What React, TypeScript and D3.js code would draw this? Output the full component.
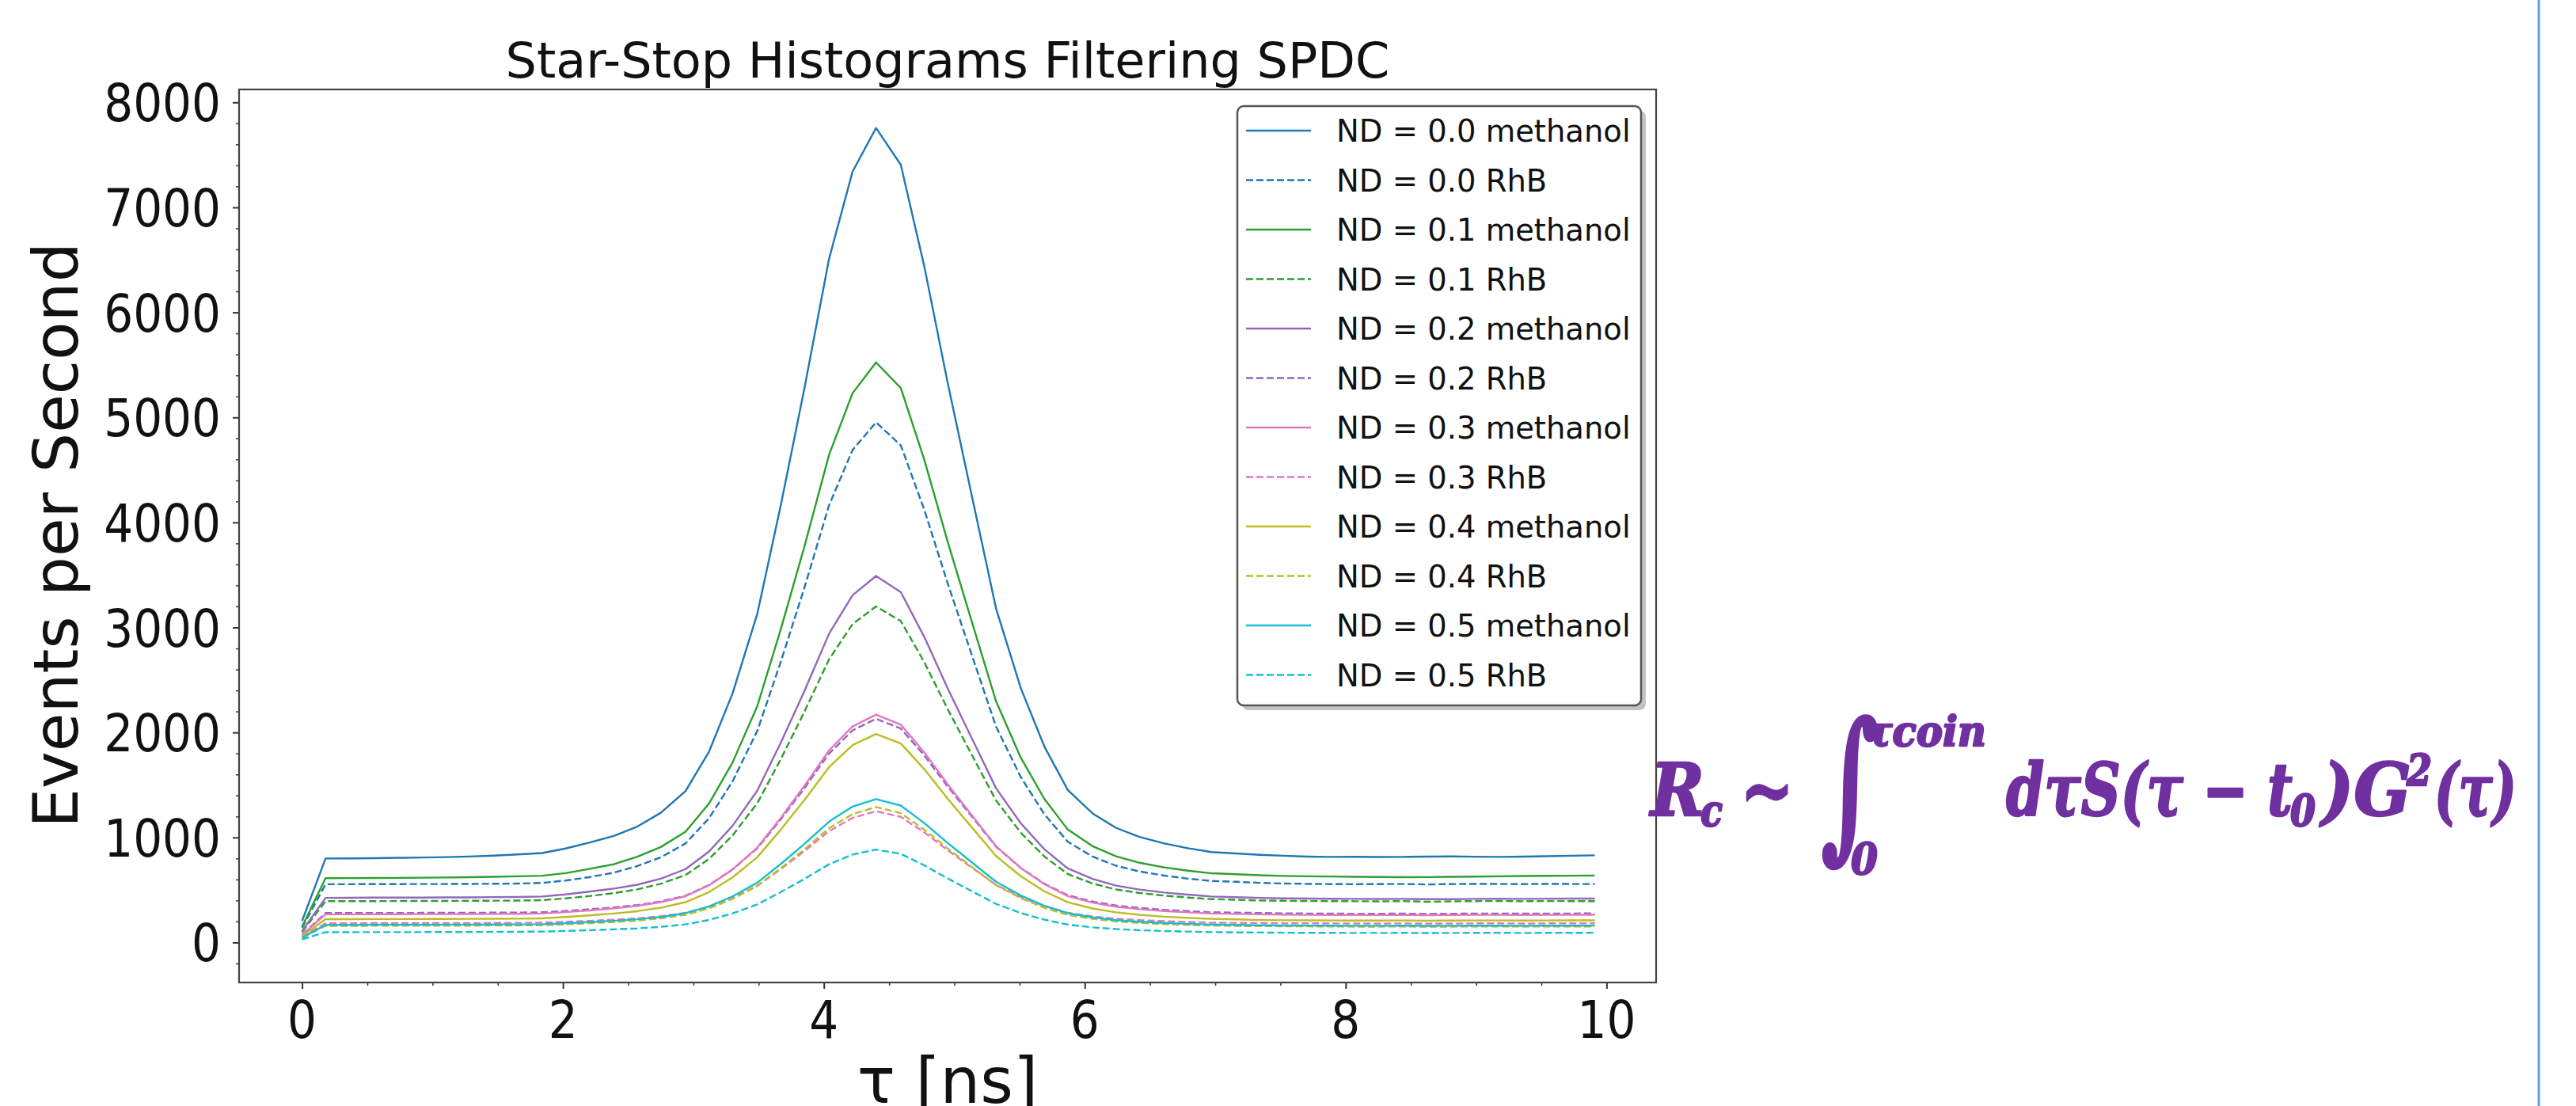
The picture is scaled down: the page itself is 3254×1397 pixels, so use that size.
import React, { useEffect, useRef } from 'react';
import * as d3 from 'd3';

const W = 3254;
const H = 1397;

// time bins (ns)
const tau = [
  0, 0.18, 0.37, 0.55, 0.73, 0.92, 1.10, 1.28, 1.47, 1.65, 1.84, 2.02, 2.20, 2.39, 2.57, 2.75, 2.94, 3.12, 3.30,
  3.49, 3.67, 3.85, 4.04, 4.22, 4.40, 4.59, 4.77, 4.95, 5.14, 5.32, 5.51, 5.69, 5.87, 6.06, 6.24, 6.42, 6.61,
  6.79, 6.97, 7.16, 7.34, 7.52, 7.71, 7.89, 8.07, 8.26, 8.44, 8.62, 8.81, 8.99, 9.18, 9.36, 9.54, 9.73, 9.91,
];

// events per second
const nd00Methanol = [
  205, 800, 801, 803, 806, 809, 813, 819, 827, 838, 852, 895, 950, 1015, 1104, 1235, 1443, 1818, 2372, 3132, 4165, 5271, 6511, 7341,
  7756,
  7405, 6437, 5325, 4219, 3181, 2421, 1867, 1452, 1229, 1091, 1005, 943, 898, 861, 848,
  835, 826, 818, 815, 816, 814, 815, 818, 820, 817, 815, 818, 822, 826, 830,
];
const nd00RhB = [
  140, 555, 555, 556, 556, 557, 557, 558, 559, 561, 567, 590, 622, 665, 728, 811, 943, 1184, 1534, 2016, 2674, 3375, 4164, 4690,
  4953,
  4734, 4120, 3417, 2716, 2056, 1574, 1222, 959, 818, 731, 676, 637, 608, 586, 578,
  568, 562, 558, 556, 555, 556, 557, 553, 556, 558, 557, 556, 558, 557, 557,
];
const nd01Methanol = [
  150, 612, 613, 614, 615, 617, 619, 622, 626, 630, 636, 660, 700, 745, 816, 909, 1055, 1324, 1714, 2252, 2984, 3766, 4645, 5231,
  5524,
  5280, 4596, 3813, 3031, 2297, 1759, 1368, 1075, 917, 820, 759, 715, 684, 659, 650,
  640, 634, 630, 628, 625, 624, 622, 623, 625, 627, 630, 633, 635, 636, 638,
];
const nd01RhB = [
  100, 393, 394, 394, 395, 395, 396, 397, 398, 399, 403, 420, 442, 470, 506, 559, 643, 796, 1020, 1327, 1747, 2194, 2697, 3032,
  3200,
  3060, 2669, 2220, 1773, 1352, 1045, 819, 652, 561, 505, 471, 446, 428, 413, 407,
  400, 397, 395, 394, 393, 392, 394, 388, 392, 394, 395, 393, 395, 394, 394,
];
const nd02Methanol = [
  110, 425, 426, 427, 427, 428, 429, 430, 432, 433, 438, 458, 484, 513, 550, 608, 699, 867, 1111, 1447, 1904, 2392, 2941, 3307,
  3490,
  3336, 2909, 2418, 1930, 1469, 1134, 888, 705, 605, 542, 504, 476, 456, 438, 431,
  425, 420, 418, 416, 415, 414, 415, 412, 413, 415, 416, 415, 417, 418, 418,
];
const nd02RhB = [
  75, 280, 280, 281, 281, 282, 282, 283, 284, 285, 288, 300, 316, 334, 356, 391, 446, 548, 695, 897, 1173, 1468, 1799, 2020,
  2130,
  2038, 1780, 1484, 1190, 912, 709, 560, 450, 390, 352, 329, 311, 299, 289, 284,
  281, 278, 276, 275, 274, 274, 275, 272, 274, 275, 276, 275, 276, 276, 277,
];
const nd03Methanol = [
  70, 268, 268, 269, 269, 270, 270, 271, 272, 273, 276, 289, 305, 325, 348, 384, 441, 545, 696, 904, 1187, 1490, 1830, 2057,
  2170,
  2074, 1809, 1505, 1202, 917, 709, 556, 442, 380, 341, 317, 299, 287, 276, 272,
  268, 265, 263, 262, 262, 261, 262, 260, 262, 263, 263, 262, 263, 264, 264,
];
const nd03RhB = [
  55, 183, 183, 184, 184, 184, 185, 185, 186, 187, 189, 197, 206, 217, 230, 250, 282, 340, 425, 541, 700, 869, 1060, 1187,
  1250,
  1196, 1048, 878, 708, 549, 432, 347, 283, 248, 226, 213, 203, 196, 189, 187,
  185, 183, 182, 182, 181, 181, 182, 180, 181, 182, 182, 181, 182, 182, 183,
];
const nd04Methanol = [
  60, 222, 222, 223, 223, 224, 224, 225, 226, 227, 230, 243, 258, 276, 298, 331, 384, 480, 620, 813, 1075, 1355, 1670, 1880,
  1985,
  1895, 1650, 1368, 1088, 823, 631, 488, 383, 324, 287, 264, 246, 234, 225, 220,
  214, 212, 211, 210, 209, 209, 210, 208, 209, 210, 210, 209, 210, 211, 211,
];
const nd04RhB = [
  45, 158, 158, 159, 159, 159, 160, 160, 161, 162, 164, 172, 183, 195, 208, 230, 263, 325, 415, 538, 707, 886, 1088, 1223,
  1290,
  1232, 1075, 894, 715, 545, 422, 330, 263, 225, 201, 186, 175, 167, 161, 157,
  156, 154, 153, 152, 151, 151, 152, 150, 151, 152, 152, 151, 152, 152, 153,
];
const nd05Methanol = [
  45, 168, 168, 169, 169, 169, 170, 170, 171, 172, 174, 183, 194, 206, 221, 243, 279, 344, 439, 570, 748, 938, 1151, 1294,
  1365,
  1304, 1137, 947, 757, 578, 447, 350, 279, 239, 213, 198, 186, 178, 171, 168,
  164, 162, 161, 160, 159, 159, 160, 158, 159, 160, 160, 159, 160, 160, 161,
];
const nd05RhB = [
  30, 98, 98, 99, 99, 99, 100, 100, 101, 102, 104, 110, 117, 125, 134, 149, 172, 215, 277, 363, 480, 605, 745, 838,
  885,
  844, 735, 609, 485, 367, 281, 217, 170, 144, 128, 117, 109, 104, 99, 96,
  95, 93, 92, 92, 91, 91, 92, 90, 91, 92, 92, 91, 92, 92, 93,
];

const seriesLabels = [
  'ND = 0.0 methanol', 'ND = 0.0 RhB', 'ND = 0.1 methanol', 'ND = 0.1 RhB',
  'ND = 0.2 methanol', 'ND = 0.2 RhB', 'ND = 0.3 methanol', 'ND = 0.3 RhB',
  'ND = 0.4 methanol', 'ND = 0.4 RhB', 'ND = 0.5 methanol', 'ND = 0.5 RhB',
];
const seriesValues = [
  nd00Methanol, nd00RhB, nd01Methanol, nd01RhB, nd02Methanol, nd02RhB,
  nd03Methanol, nd03RhB, nd04Methanol, nd04RhB, nd05Methanol, nd05RhB,
];
const seriesColors = [
  '#1f77b4', '#1f77b4', '#2ca02c', '#2ca02c', '#9467bd', '#9467bd',
  '#e377c2', '#e377c2', '#bcbd22', '#bcbd22', '#17becf', '#17becf',
];
const seriesDashed = [false, true, false, true, false, true, false, true, false, true, false, true];

const xTicks = [0, 2, 4, 6, 8, 10];
const xMinorTicks = [0.5, 1, 1.5, 2.5, 3, 3.5, 4.5, 5, 5.5, 6.5, 7, 7.5, 8.5, 9, 9.5];
const yTicks = [0, 1000, 2000, 3000, 4000, 5000, 6000, 7000, 8000];
const yMinorTicks = [-200, 200, 400, 600, 800, 1200, 1400, 1600, 1800, 2200, 2400, 2600, 2800, 3200, 3400, 3600,
  3800, 4200, 4400, 4600, 4800, 5200, 5400, 5600, 5800, 6200, 6400, 6600, 6800, 7200, 7400, 7600, 7800];

const PLOT = { left: 302, right: 2092, top: 113, bottom: 1241 };
const SANS = '"DejaVu Sans", sans-serif';
const MATH = '"DejaVu Serif", serif';
const FORMULA_COLOR = '#7030a0';
const TICK_SX = 0.88;

export default function App() {
  const svgRef = useRef<SVGSVGElement | null>(null);

  useEffect(() => {
    if (!svgRef.current) return;
    const svg = d3.select(svgRef.current);
    svg.selectAll('*').remove();

    svg.append('rect').attr('width', W).attr('height', H).attr('fill', '#ffffff');

    const x = d3.scaleLinear().domain([-0.483, 10.38]).range([PLOT.left, PLOT.right]);
    const y = d3.scaleLinear().domain([-381, 8123]).range([PLOT.bottom, PLOT.top]);

    // ticks (outward, matplotlib style)
    const tickStyle = (sel: any, w: number) => {
      sel.select('.domain').remove();
      sel.selectAll('line').attr('stroke', '#333').attr('stroke-width', w);
    };
    svg.append('g').attr('transform', `translate(0,${PLOT.bottom})`)
      .call(d3.axisBottom(x).tickValues(xTicks).tickSize(8).tickFormat(() => ''))
      .call((s: any) => tickStyle(s, 2));
    svg.append('g').attr('transform', `translate(0,${PLOT.bottom})`)
      .call(d3.axisBottom(x).tickValues(xMinorTicks).tickSize(4).tickFormat(() => ''))
      .call((s: any) => tickStyle(s, 1.5));
    svg.append('g').attr('transform', `translate(${PLOT.left},0)`)
      .call(d3.axisLeft(y).tickValues(yTicks).tickSize(8).tickFormat(() => ''))
      .call((s: any) => tickStyle(s, 2));
    svg.append('g').attr('transform', `translate(${PLOT.left},0)`)
      .call(d3.axisLeft(y).tickValues(yMinorTicks).tickSize(4).tickFormat(() => ''))
      .call((s: any) => tickStyle(s, 1.5));

    // tick labels
    svg.append('g').selectAll('text').data(xTicks).join('text')
      .attr('transform', d => `translate(${x(d)},1311) scale(${TICK_SX},1)`)
      .attr('text-anchor', 'middle')
      .style('font-family', SANS).style('font-size', '66px').attr('fill', '#111')
      .text(d => String(d));
    svg.append('g').selectAll('text').data(yTicks).join('text')
      .attr('transform', d => `translate(279,${y(d) + 24}) scale(${TICK_SX},1)`)
      .attr('text-anchor', 'end')
      .style('font-family', SANS).style('font-size', '66px').attr('fill', '#111')
      .text(d => String(d));

    // series lines
    const line = d3.line<number>().x((_, i) => x(tau[i])).y(d => y(d));
    svg.append('g').selectAll('path').data(seriesValues).join('path')
      .attr('d', d => line(d))
      .attr('fill', 'none')
      .attr('stroke', (_, i) => seriesColors[i])
      .attr('stroke-width', 2.4)
      .attr('stroke-linejoin', 'round')
      .attr('stroke-dasharray', (_, i) => (seriesDashed[i] ? '9,4' : null));

    // frame
    svg.append('rect')
      .attr('x', PLOT.left).attr('y', PLOT.top)
      .attr('width', PLOT.right - PLOT.left).attr('height', PLOT.bottom - PLOT.top)
      .attr('fill', 'none').attr('stroke', '#444').attr('stroke-width', 2.2);

    // legend
    const lg = svg.append('g');
    lg.append('rect').attr('x', 1569).attr('y', 140).attr('width', 510).attr('height', 757)
      .attr('rx', 8).attr('fill', '#888').attr('opacity', 0.5);
    lg.append('rect').attr('x', 1563).attr('y', 134).attr('width', 510).attr('height', 757)
      .attr('rx', 8).attr('fill', '#fff').attr('stroke', '#555').attr('stroke-width', 2.5);
    const items = lg.selectAll('g.item').data(seriesLabels).join('g')
      .attr('class', 'item')
      .attr('transform', (_, i) => `translate(0,${165 + i * 62.5})`);
    items.append('line').attr('x1', 1574).attr('x2', 1656).attr('y1', 0).attr('y2', 0)
      .attr('stroke', (_, i) => seriesColors[i]).attr('stroke-width', 2.5)
      .attr('stroke-dasharray', (_, i) => (seriesDashed[i] ? '9,4' : null));
    items.append('text').attr('x', 1688).attr('y', 14)
      .style('font-family', SANS).style('font-size', '38.5px').attr('fill', '#111')
      .text(d => d);

    // title and axis labels
    svg.append('text')
      .attr('x', (PLOT.left + PLOT.right) / 2).attr('y', 98)
      .attr('text-anchor', 'middle')
      .style('font-family', SANS).style('font-size', '62px').attr('fill', '#111')
      .text('Star-Stop Histograms Filtering SPDC');
    svg.append('text')
      .attr('x', (PLOT.left + PLOT.right) / 2).attr('y', 1393)
      .attr('text-anchor', 'middle')
      .style('font-family', SANS).style('font-size', '80px').attr('fill', '#111')
      .text('τ [ns]');
    svg.append('text')
      .attr('transform', 'translate(98,676) rotate(-90)')
      .attr('text-anchor', 'middle')
      .style('font-family', SANS).style('font-size', '79px').attr('fill', '#111')
      .text('Events per Second');

    // formula to the right of the chart
    const fm = svg.append('g').attr('fill', FORMULA_COLOR)
      .attr('stroke', FORMULA_COLOR).attr('stroke-width', 2.5).attr('stroke-linejoin', 'round')
      .style('font-family', MATH).style('font-weight', 'bold').style('font-style', 'italic');
    const piece = (t: string, px: number, py: number, size: number, len?: number) => {
      const el = fm.append('text').attr('x', px).attr('y', py).style('font-size', `${size}px`).text(t);
      if (len) el.attr('textLength', len).attr('lengthAdjust', 'spacingAndGlyphs');
      return el;
    };
    piece('R', 2085, 1030, 92, 68);
    piece('c', 2148, 1043, 55, 28);
    piece('∼', 2198, 1036, 110, 68);
    fm.append('text')
      .attr('transform', 'translate(2300,1060) scale(0.62,1)')
      .attr('stroke-width', 4)
      .style('font-size', '205px').style('font-style', 'normal')
      .text('∫');
    piece('τcoin', 2357, 942, 52, 152);
    piece('0', 2338, 1104, 55, 34);
    piece('dτS(τ − t', 2534, 1030, 92, 362);
    piece('0', 2893, 1043, 55, 32);
    piece(')G', 2933, 1030, 92, 113);
    piece('2', 3040, 992, 55, 32);
    piece('(τ)', 3075, 1030, 92, 104);

    // slide border on the right
    svg.append('line').attr('x1', 3207).attr('x2', 3207).attr('y1', 0).attr('y2', H)
      .attr('stroke', '#6a9fd8').attr('stroke-width', 3);
  }, []);

  return (
    <div style={{ position: 'absolute', left: 0, top: 0, width: W, height: H }}>
      <svg ref={svgRef} width={W} height={H} />
    </div>
  );
}
